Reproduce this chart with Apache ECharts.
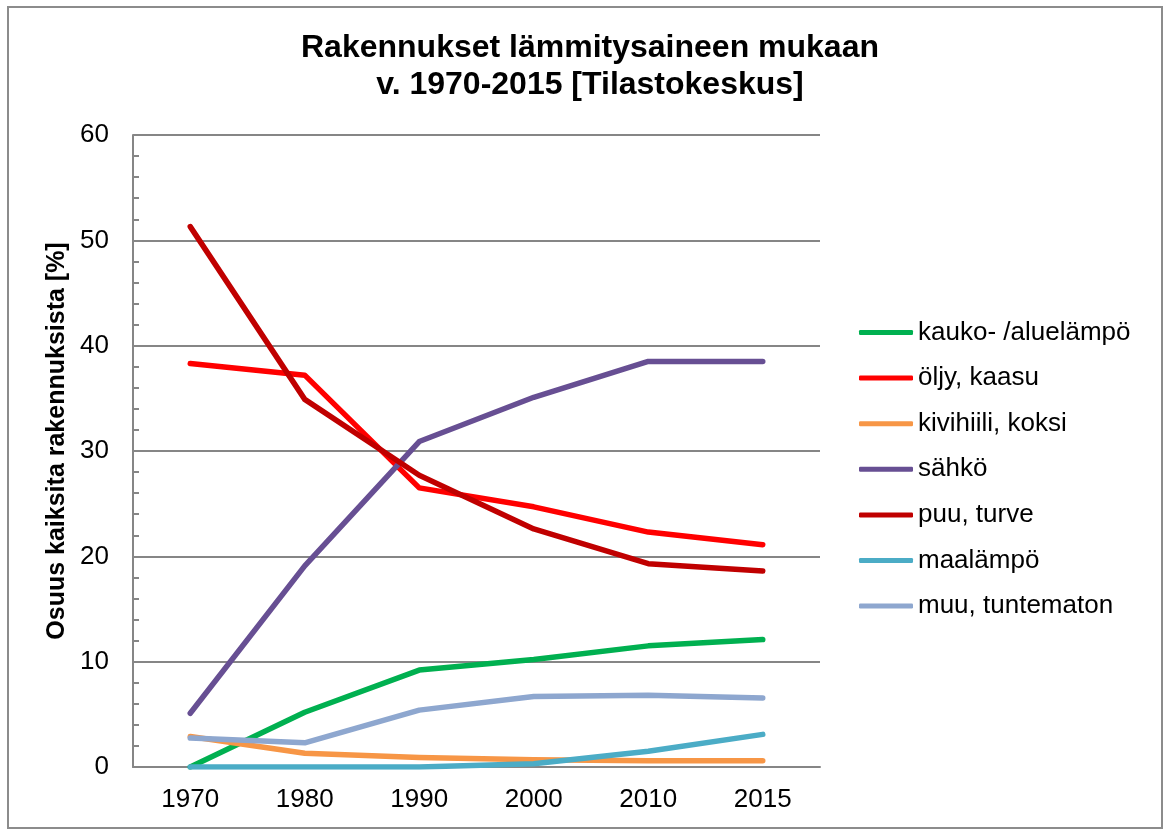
<!DOCTYPE html>
<html lang="fi">
<head>
    <meta charset="UTF-8">
    <title>Rakennukset lämmitysaineen mukaan</title>
    <script src="https://cdn.jsdelivr.net/npm/echarts@6/dist/echarts.min.js"></script>
    <style>
        html, body { margin: 0; padding: 0; background: #fff; }
        #chart { width: 1169px; height: 830px; }
    </style>
</head>
<body>
    <div id="chart"></div>
    <script>
        // vuodet (x-akseli)
        var years = ['1970', '1980', '1990', '2000', '2010', '2015'];

        // osuus kaikista rakennuksista [%]
        var kaukolampo = [0, 5.2, 9.2, 10.2, 11.5, 12.1];
        var oljyKaasu = [38.3, 37.2, 26.5, 24.7, 22.3, 21.1];
        var kivihiili = [2.9, 1.3, 0.9, 0.7, 0.6, 0.6];
        var sahko = [5.1, 19.1, 30.9, 35.1, 38.5, 38.5];
        var puuTurve = [51.3, 34.9, 27.7, 22.6, 19.3, 18.6];
        var maalampo = [0, 0, 0, 0.3, 1.5, 3.1];
        var muu = [2.75, 2.3, 5.4, 6.7, 6.8, 6.55];

        var names = ['kauko- /aluelämpö', 'öljy, kaasu', 'kivihiili, koksi', 'sähkö',
            'puu, turve', 'maalämpö', 'muu, tuntematon'];
        var values = [kaukolampo, oljyKaasu, kivihiili, sahko, puuTurve, maalampo, muu];
        var colors = ['#00B050', '#FF0000', '#F79646', '#674F93', '#C00000', '#4BACC6', '#8EA7CF'];

        var font = '"Liberation Sans", Arial, sans-serif';

        var series = [];
        for (var i = 0; i < names.length; i++) {
            series.push({
                name: names[i],
                type: 'line',
                data: values[i],
                symbol: 'none',
                silent: true,
                lineStyle: { width: 5.5, color: colors[i], cap: 'round', join: 'round' },
                itemStyle: { color: colors[i] }
            });
        }

        var chart = echarts.init(document.getElementById('chart'));
        chart.setOption({
            animation: false,
            color: colors,
            textStyle: { fontFamily: font },
            title: {
                text: 'Rakennukset lämmitysaineen mukaan\nv. 1970-2015 [Tilastokeskus]',
                left: 585,
                top: 25,
                textAlign: 'center',
                textStyle: { fontSize: 32, fontWeight: 'bold', color: '#000', lineHeight: 37, fontFamily: font }
            },
            legend: {
                orient: 'vertical',
                left: 854,
                top: 314.5,
                icon: 'roundRect',
                itemWidth: 54,
                itemHeight: 5,
                itemGap: 19.6,
                textStyle: { fontSize: 26, color: '#000', lineHeight: 26, fontFamily: font }
            },
            grid: { left: 133, right: 349, top: 135, bottom: 63 },
            xAxis: {
                type: 'category',
                data: years,
                boundaryGap: true,
                axisLine: { lineStyle: { color: '#868686', width: 2 } },
                axisTick: { show: false },
                axisLabel: { fontSize: 26, color: '#000', margin: 20, fontFamily: font }
            },
            yAxis: {
                type: 'value',
                min: 0,
                max: 60,
                interval: 10,
                name: 'Osuus kaiksita rakennuksista [%]',
                nameLocation: 'middle',
                nameGap: 57,
                nameTextStyle: { fontSize: 25, fontWeight: 'bold', color: '#000', padding: [0, 0, 0, 20], fontFamily: font },
                axisLine: { show: true, lineStyle: { color: '#868686', width: 2 } },
                axisTick: { show: true, inside: true, length: 6, lineStyle: { color: '#868686', width: 2 } },
                minorTick: { show: true, splitNumber: 5, length: 6, lineStyle: { color: '#868686', width: 2 } },
                splitLine: { lineStyle: { color: '#868686', width: 2 } },
                axisLabel: { fontSize: 26, color: '#000', margin: 24, fontFamily: font }
            },
            graphic: [{
                type: 'rect',
                silent: true,
                shape: { x: 8, y: 7, width: 1154, height: 821 },
                style: { fill: 'none', stroke: '#8c8c8c', lineWidth: 2 }
            }],
            series: series
        });
    </script>
</body>
</html>
